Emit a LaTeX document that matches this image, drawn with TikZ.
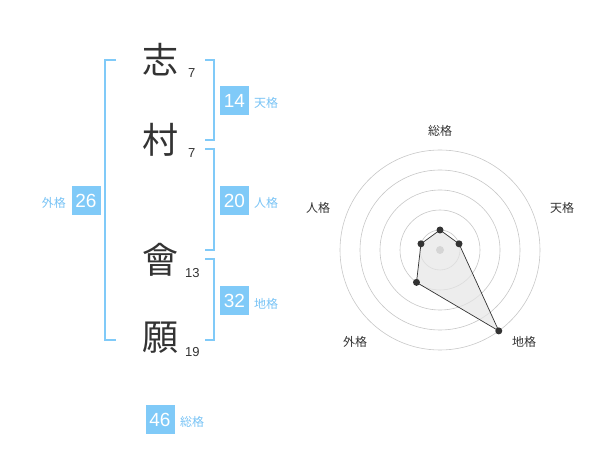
\documentclass[tikz,border=0pt]{standalone}
\usepackage{fontspec}
\usetikzlibrary{calc}
\setmainfont{Liberation Sans}
\newfontfamily\cjk{Noto Sans CJK JP}
\definecolor{blu}{RGB}{128,202,248}
\definecolor{lblu}{RGB}{120,195,245}
\definecolor{dk}{RGB}{51,51,51}
\begin{document}
\begin{tikzpicture}[x=1pt,y=-1pt,
  kanji/.style={font=\cjk\fontsize{36}{36}\selectfont,text=dk,inner sep=0pt},
  strk/.style={font=\fontsize{13}{13}\selectfont,text=dk,inner sep=0pt,anchor=west},
  numbox/.style={fill=blu,text=white,minimum width=29pt,minimum height=29pt,inner sep=0pt,font=\fontsize{19}{19}\selectfont},
  lab/.style={font=\cjk\fontsize{12}{12}\selectfont,text=lblu,inner sep=0pt},
  brk/.style={draw=blu,line width=1.6pt},
  ring/.style={draw=black!22,line width=0.6pt},
  rlab/.style={font=\cjk\fontsize{12}{12}\selectfont,text=dk,inner sep=0pt},
  dot/.style={circle,fill=dk,inner sep=0pt,minimum size=7pt}]
\useasboundingbox (0,0) rectangle (600,470);
% kanji
\node[kanji] (k1) at (160,60) {志};
\node[kanji] (k2) at (160,140) {村};
\node[kanji] (k3) at (160,260) {會};
\node[kanji] (k4) at (160,338) {願};
\node[strk] (s1) at (188,73) {7};
\node[strk] (s2) at (188,153) {7};
\node[strk] (s3) at (185,273) {13};
\node[strk] (s4) at (185,352) {19};
% brackets
\draw[brk] (116,60) -- (105,60) -- (105,340) -- (116,340);
\draw[brk] (205,60) -- (214,60) -- (214,140) -- (205,140);
\draw[brk] (205,149) -- (214,149) -- (214,250) -- (205,250);
\draw[brk] (205,259) -- (214,259) -- (214,340) -- (205,340);
% boxes
\node[numbox] (b1) at (234.5,100.5) {14};
\node[lab,anchor=west] (l1) at (254,103) {天格};
\node[numbox] (b2) at (234.5,200.5) {20};
\node[lab,anchor=west] (l2) at (254,203) {人格};
\node[numbox] (b3) at (234.5,301) {32};
\node[lab,anchor=west] (l3) at (254,303.5) {地格};
\node[numbox] (b4) at (86,200.5) {26};
\node[lab,anchor=east] (l4) at (66,203) {外格};
\node[numbox] (b5) at (160,419.5) {46};
\node[lab,anchor=west] (l5) at (180,422) {総格};
% radar
\coordinate (c) at (440,250);
\foreach \r in {20,40,60,80,100} \draw[ring] (c) circle[radius=\r];
\fill[black!30] (c) circle[radius=4];
\coordinate (pS) at ($(c)+(0,-20)$);
\coordinate (pT) at ($(c)+(19.02,-6.18)$);
\coordinate (pC) at ($(c)+(58.78,80.90)$);
\coordinate (pG) at ($(c)+(-23.51,32.36)$);
\coordinate (pJ) at ($(c)+(-19.02,-6.18)$);
\fill[black!10,opacity=0.7] (pS) -- (pT) -- (pC) -- (pG) -- (pJ) -- cycle;
\draw[dk,line width=0.7pt] (pS) -- (pT) -- (pC) -- (pG) -- (pJ) -- cycle;
\foreach \p in {pS,pT,pC,pG,pJ} \node[dot] at (\p) {};
\node[rlab] (r1) at (440,130.5) {総格};
\node[rlab] (r2) at (562,208) {天格};
\node[rlab] (r3) at (318,208) {人格};
\node[rlab] (r4) at (355,341.5) {外格};
\node[rlab] (r5) at (524,341.5) {地格};
\end{tikzpicture}
\end{document}
